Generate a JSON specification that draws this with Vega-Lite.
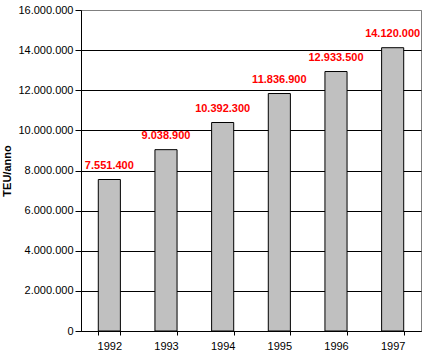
{
  "$schema": "https://vega.github.io/schema/vega-lite/v6.json",
  "autosize": "none",
  "width": 340,
  "height": 321,
  "padding": {"left": 81, "top": 10, "right": 9, "bottom": 24},
  "background": "white",
  "config": {
    "locale": {"number": {"decimal": ",", "thousands": ".", "grouping": [3], "currency": ["€", ""]}},
    "font": "Liberation Sans",
    "view": {"stroke": "#808080", "strokeWidth": 1}
  },
  "data": {
    "values": [
      {"year": "1992", "teu": 7551400},
      {"year": "1993", "teu": 9038900},
      {"year": "1994", "teu": 10392300},
      {"year": "1995", "teu": 11836900},
      {"year": "1996", "teu": 12933500},
      {"year": "1997", "teu": 14120000}
    ]
  },
  "encoding": {
    "x": {
      "field": "year",
      "type": "nominal",
      "scale": {"paddingInner": 0.61, "paddingOuter": 0.305},
      "axis": {
        "title": null,
        "labelAngle": 0,
        "labelFont": "Liberation Sans",
        "labelFontSize": 11,
        "labelColor": "black",
        "labelPadding": 5,
        "domainColor": "black",
        "tickColor": "black",
        "tickSize": 4,
        "tickBand": "extent",
        "grid": false
      }
    },
    "y": {
      "field": "teu",
      "type": "quantitative",
      "scale": {"domain": [0, 16000000], "nice": false},
      "axis": {
        "title": "TEU/anno",
        "titleFont": "Liberation Sans",
        "titleFontSize": 11,
        "titleFontWeight": "bold",
        "titleColor": "black",
        "titlePadding": 5,
        "values": [0, 2000000, 4000000, 6000000, 8000000, 10000000, 12000000, 14000000, 16000000],
        "labelExpr": "format(datum.value, ',.0f')",
        "labelFont": "Liberation Sans",
        "labelFontSize": 11,
        "labelColor": "black",
        "labelPadding": 2,
        "tickSize": 6,
        "tickColor": "black",
        "domainColor": "black",
        "grid": true,
        "gridColor": {"condition": {"test": "datum.value == 16000000", "value": "#808080"}, "value": "black"},
        "gridOpacity": 1
      }
    }
  },
  "layer": [
    {
      "mark": {"type": "bar", "color": "#C0C0C0", "stroke": "black", "strokeWidth": 1}
    },
    {
      "mark": {"type": "text", "color": "#FF0000", "fontWeight": "bold", "fontSize": 11, "font": "Liberation Sans", "baseline": "alphabetic", "dy": -11},
      "encoding": {
        "text": {"field": "teu", "type": "quantitative", "format": ","}
      }
    }
  ]
}
